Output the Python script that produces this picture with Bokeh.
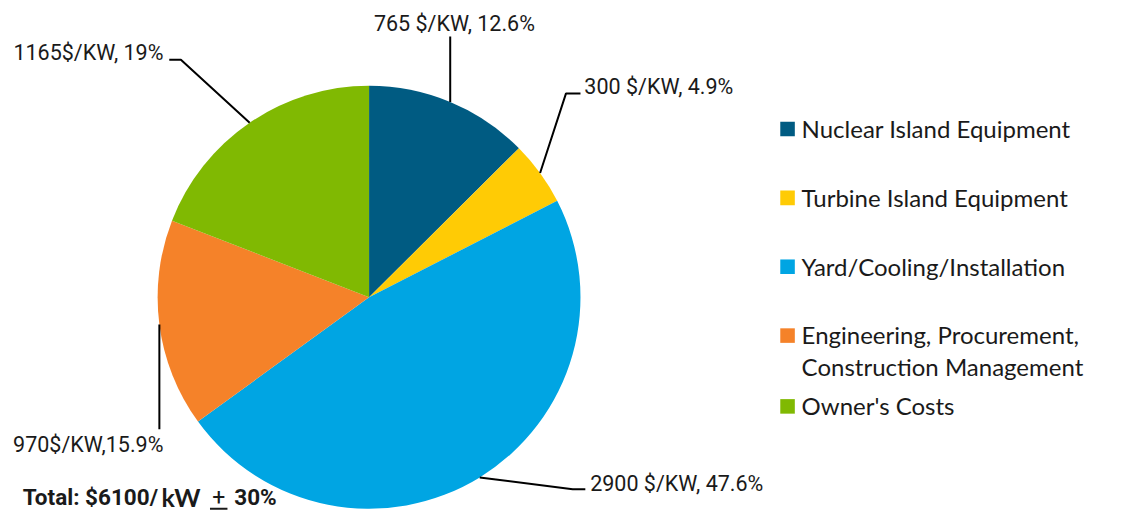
import numpy as np
from bokeh.plotting import figure
from bokeh.models import Range1d, ColumnDataSource
from bokeh.core.properties import value
from bokeh.embed import file_html
from bokeh.resources import INLINE

# ---------------- data ----------------
categories = ["Nuclear Island Equipment", "Turbine Island Equipment",
              "Yard/Cooling/Installation",
              "Engineering, Procurement, Construction Management",
              "Owner's Costs"]
costs = [765, 300, 2900, 970, 1165]          # $/kW
slice_labels = ["765 $/KW, 12.6%", "300 $/KW, 4.9%", "2900 $/KW, 47.6%",
                "970$/KW,15.9%", "1165$/KW, 19%"]
legend_lines = [["Nuclear Island Equipment"], ["Turbine Island Equipment"],
                ["Yard/Cooling/Installation"],
                ["Engineering, Procurement,", "Construction Management"],
                ["Owner's Costs"]]
colors = ["#005B82", "#FFCB05", "#00A5E3", "#F58229", "#80B902"]
total_text = ["Total: $6100/", "kW", "+", "30%"]

# ---------------- layout ----------------
W, H = 1107, 515
REF_H = 531
S = H / REF_H                      # uniform scale reference -> canvas
def Y(img_y):
    return REF_H - img_y
def TY(img_y, fs):
    # baseline position corrected for svg text baseline shift
    return Y(img_y) + 0.37 * fs / S

cx, cy, R = 380, Y(306), 218
LABEL_FONT = value("Roboto")
LEGEND_FONT = value("Lato")
TXT = "#1a1a1a"
LFS = 21.5
GFS = 24

p = figure(width=W, height=H, output_backend="svg", toolbar_location=None,
           x_range=Range1d(0, W / S), y_range=Range1d(0, REF_H),
           min_border=0, outline_line_color=None)
p.axis.visible = False
p.grid.visible = False
p.background_fill_color = "white"
p.border_fill_color = "white"

vals = np.array(costs, dtype=float)
frac = vals / vals.sum()
cum_end = np.cumsum(frac)
cum_start = cum_end - frac
start_ang = np.pi / 2 - 2 * np.pi * cum_end
end_ang = np.pi / 2 - 2 * np.pi * cum_start
mid_ang = np.pi / 2 - 2 * np.pi * (cum_start + cum_end) / 2

src = ColumnDataSource(dict(start=start_ang, end=end_ang, color=colors,
                            cat=categories))
p.wedge(x=cx, y=cy, radius=R, start_angle="start", end_angle="end",
        color="color", line_color=None, source=src)

# leader lines: start on arc at slice middle, then to label anchor
sx = cx + R * np.cos(mid_ang)
sy = cy + R * np.sin(mid_ang)
leader_tail = [
    [(sx[0], Y(37))],
    [(583, Y(96)), (598, Y(96))],
    [(590, Y(504)), (603, Y(504))],
    [(sx[3], Y(442))],
    [(186, Y(61)), (174, Y(61))],
]
xs, ys = [], []
for i, tail in enumerate(leader_tail):
    xs.append([sx[i]] + [t[0] for t in tail])
    ys.append([sy[i]] + [t[1] for t in tail])
p.multi_line(xs=xs, ys=ys, line_color="black", line_width=2)

label_pos = [(385, 32, "left"), (602, 97, "left"), (608, 506, "left"),
             (168, 466, "right"), (168, 62, "right")]
for i, (lx, ly, al) in enumerate(label_pos):
    p.text(x=[lx], y=[TY(ly, LFS)], text=[slice_labels[i]], text_font=LABEL_FONT,
           text_font_size=f"{LFS}px", text_color=TXT, text_align=al,
           text_baseline="alphabetic")

# legend
row_base = [141, 212, 283, 354, 427]
for i, lines in enumerate(legend_lines):
    b = row_base[i]
    p.rect(x=[811.5], y=[Y(b - 8.5)], width=15, height=15,
           fill_color=colors[i], line_color=None)
    for j, t in enumerate(lines):
        p.text(x=[826], y=[TY(b + 33 * j, GFS)], text=[t], text_font=LEGEND_FONT,
               text_font_size=f"{GFS}px", text_color=TXT, text_align="left",
               text_baseline="alphabetic")

# total
TFS = 22.5
tb = TY(520, TFS)
p.text(x=[23], y=[tb], text=[total_text[0]], text_font=LABEL_FONT,
       text_font_style="bold", text_font_size=f"{TFS}px", text_color=TXT,
       text_baseline="alphabetic")
p.text(x=[166], y=[tb], text=[total_text[1]], text_font=LEGEND_FONT,
       text_font_style="bold", text_font_size="25px", text_color=TXT,
       text_baseline="alphabetic")
p.text(x=[225], y=[tb], text=[total_text[2]], text_font=LABEL_FONT,
       text_font_size="23px", text_color=TXT, text_align="center",
       text_baseline="alphabetic")
p.segment(x0=[216], y0=[Y(524)], x1=[234], y1=[Y(524)], line_color=TXT,
          line_width=2)
p.text(x=[241], y=[tb], text=[total_text[3]], text_font=LABEL_FONT,
       text_font_style="bold", text_font_size=f"{TFS}px", text_color=TXT,
       text_align="left", text_baseline="alphabetic")

open("out.html", "w").write(file_html(p, INLINE))
